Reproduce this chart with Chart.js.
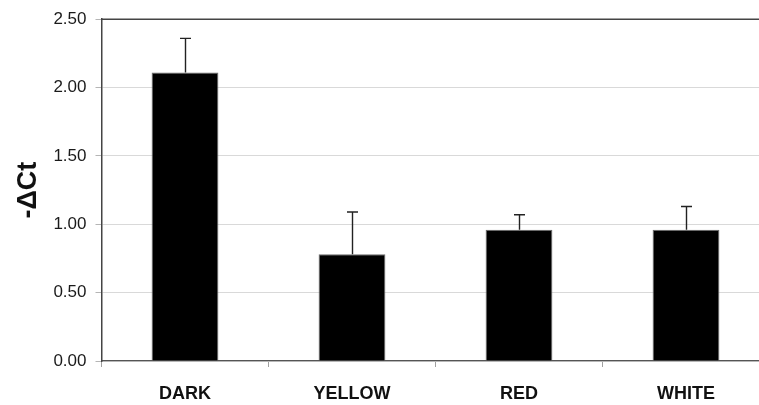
<!DOCTYPE html>
<html>
<head>
<meta charset="utf-8">
<script src="https://cdn.jsdelivr.net/npm/chart.js@4/dist/chart.umd.min.js"></script>
<style>
  html, body { margin: 0; padding: 0; background: #ffffff; overflow: hidden; }
  #wrap { width: 759px; height: 405px; overflow: hidden; }
  canvas { display: block; }
</style>
</head>
<body>
<div id="wrap"><canvas id="c" width="772" height="405"></canvas></div>
<script>
// Light conditions and the mean -ΔCt measured under each
const categories = ['DARK', 'YELLOW', 'RED', 'WHITE'];
const meanValues = [2.11, 0.78, 0.96, 0.96];
// Upper error (standard deviation) for each bar
const errorValues = [0.25, 0.31, 0.11, 0.17];
const yTicks = [0, 0.5, 1.0, 1.5, 2.0, 2.5];

// Draws one-sided (upward) error bars with a short cap
const errorBarPlugin = {
  id: 'errorBars',
  afterDatasetsDraw(chart) {
    const ctx = chart.ctx;
    const yScale = chart.scales.y;
    const meta = chart.getDatasetMeta(0);
    ctx.save();
    ctx.strokeStyle = '#222222';
    ctx.lineWidth = 1.4;
    meta.data.forEach((bar, i) => {
      const x = Math.round(bar.x) + 0.5;
      const yTop = yScale.getPixelForValue(meanValues[i]);
      const yErr = yScale.getPixelForValue(meanValues[i] + errorValues[i]);
      ctx.beginPath();
      ctx.moveTo(x, yTop);
      ctx.lineTo(x, yErr);
      ctx.moveTo(x - 5.5, yErr);
      ctx.lineTo(x + 5.5, yErr);
      ctx.stroke();
    });
    ctx.restore();
  }
};

// Closes the plot area along its top edge
const framePlugin = {
  id: 'frame',
  afterDraw(chart) {
    const { ctx, chartArea: a } = chart;
    ctx.save();
    ctx.strokeStyle = '#444444';
    ctx.lineWidth = 1.5;
    ctx.beginPath();
    ctx.moveTo(a.left, a.top);
    ctx.lineTo(a.right, a.top);
    ctx.stroke();
    ctx.restore();
  }
};

new Chart(document.getElementById('c'), {
  type: 'bar',
  data: {
    labels: categories,
    datasets: [{
      data: meanValues,
      backgroundColor: '#000000',
      borderColor: '#6a6a6a',
      borderWidth: 1,
      categoryPercentage: 1.0,
      barPercentage: 0.4
    }]
  },
  options: {
    responsive: false,
    animation: false,
    devicePixelRatio: 1,
    layout: { padding: { top: 17, right: 2.5, left: 0, bottom: 0 } },
    plugins: {
      legend: { display: false },
      tooltip: { enabled: false }
    },
    scales: {
      x: {
        afterFit(scale) { scale.height = 44; },
        grid: {
          display: true,
          drawOnChartArea: false,
          drawTicks: true,
          offset: true,
          tickLength: 6,
          color: '#a0a0a0'
        },
        border: { display: true, color: '#555555', width: 1.2 },
        ticks: {
          color: '#111111',
          padding: 16,
          font: { family: '"Liberation Sans", Arial, sans-serif', size: 18, weight: 'bold' }
        }
      },
      y: {
        min: 0,
        max: 2.5,
        afterFit(scale) { scale.width = 101.5; },
        afterBuildTicks(scale) { scale.ticks = yTicks.map(v => ({ value: v })); },
        grid: {
          color: '#d9d9d9',
          lineWidth: 1,
          tickLength: 6,
          tickColor: '#b5b5b5'
        },
        border: { display: true, color: '#444444', width: 1.5 },
        ticks: {
          color: '#1a1a1a',
          padding: 9,
          font: { family: '"Liberation Sans", Arial, sans-serif', size: 17 },
          callback: (v) => Number(v).toFixed(2)
        },
        title: {
          display: true,
          text: '-ΔCt',
          color: '#111111',
          padding: { top: 12, bottom: 0 },
          font: { family: '"Liberation Sans", Arial, sans-serif', size: 27, weight: 'bold' }
        }
      }
    }
  },
  plugins: [errorBarPlugin, framePlugin]
});
</script>
</body>
</html>
